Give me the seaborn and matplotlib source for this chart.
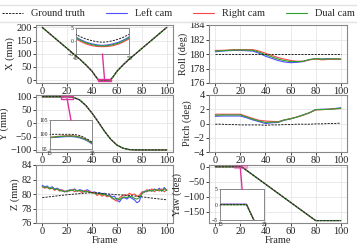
import matplotlib
matplotlib.use("Agg")
import matplotlib.pyplot as plt
import seaborn as sns
from matplotlib.patches import Rectangle, ConnectionPatch
from matplotlib.lines import Line2D

# ---- data ----
x_frames = [0, 5, 10, 15, 20, 25, 30, 35, 40, 43, 45, 46, 47, 48, 49, 50, 51, 52, 53, 54, 55,
            57, 60, 65, 70, 75, 80, 85, 90, 95, 100]
x_gt = [200, 180, 160, 140, 120, 100, 80, 58, 34, 14, 2.5, 1.5, 0.7, 0.1, -0.3, -0.5, -0.3, 0.1, 0.7, 1.5, 2.5,
        14, 34, 58, 80, 100, 120, 140, 160, 180, 200]
x_left = [200, 180, 160, 140, 120, 100, 80, 58, 33.5, 13, 1.5, 0.4, -0.5, -1.1, -1.5, -1.7, -1.5, -1.1, -0.5, 0.4, 1.5,
          13, 33.5, 58, 80, 100, 120, 140, 160, 180, 200]
x_right = [200, 180, 160, 140, 120, 100, 80, 58, 33, 12.5, 0.8, -0.3, -1.2, -1.8, -2.1, -2.2, -2.1, -1.8, -1.2, -0.3, 0.8,
           12.5, 33, 58, 80, 100, 120, 140, 160, 180, 200]
x_dual = [200, 180, 160, 140, 120, 100, 80, 58, 33.3, 12.8, 1.2, 0.1, -0.8, -1.4, -1.8, -1.9, -1.8, -1.4, -0.8, 0.1, 1.2,
          12.8, 33.3, 58, 80, 100, 120, 140, 160, 180, 200]

y_frames = [0, 5, 10, 15, 16, 17, 18, 19, 20, 21, 22, 23, 24, 25, 30, 35, 40, 45, 50, 55, 60, 65,
            70, 75, 80, 85, 90, 95, 100]
y_gt = [100, 100, 100, 100, 100, 100, 100, 100, 100, 99.9, 99.6, 99.0, 98.2, 97.2, 88, 67, 38, 5, -30, -60, -82, -94,
        -99, -100, -100, -100, -100, -100, -100]
y_left = [99, 99, 98.9, 98.8, 98.9, 99.0, 99.1, 99.2, 99.2, 99.1, 98.8, 98.3, 97.6, 96.6, 87.5, 66.5, 37.5, 4.5, -30.5,
          -60.5, -82, -94, -99, -100, -100.5, -100.5, -100.5, -100.5, -100.5]
y_right = [99.2, 99.2, 99.1, 99.0, 99.1, 99.3, 99.4, 99.5, 99.5, 99.4, 99.1, 98.6, 97.9, 96.9, 87.8, 66.8, 37.8, 4.8,
           -30.2, -60.2, -82, -94, -99, -100, -100.3, -100.3, -100.3, -100.3, -100.3]
y_dual = [99.1, 99.1, 99.0, 98.9, 99.0, 99.2, 99.3, 99.4, 99.4, 99.3, 99.0, 98.5, 97.8, 96.8, 87.7, 66.7, 37.7, 4.7,
          -30.3, -60.3, -82, -94, -99, -100, -100.4, -100.4, -100.4, -100.4, -100.4]

z_gt_frames = [0, 10, 20, 30, 40, 50, 60, 70, 80, 90, 100]
z_gt = [79.5, 79.7, 79.9, 80.05, 80.2, 80.05, 79.9, 79.8, 79.6, 79.4, 79.2]
z_frames = list(range(0, 101, 2))
z_left = [81.2, 81.0, 81.1, 80.8, 81.0, 80.7, 80.8, 80.6, 80.5, 80.4,
          80.3, 80.6, 80.5, 80.7, 80.4, 80.6, 80.5, 80.3, 80.6, 80.4,
          80.2, 80.3, 80.1, 80.2, 80.0, 80.1, 79.8, 79.9, 79.6, 79.7,
          79.2, 78.9, 79.4, 79.5, 79.3, 79.6, 79.4, 79.2, 78.8, 79.0,
          80.1, 80.4, 80.3, 80.6, 80.4, 80.7, 80.5, 80.8, 80.4, 80.9,
          80.5]
z_right = [81.0, 80.8, 80.9, 80.7, 80.8, 80.5, 80.7, 80.4, 80.6, 80.3,
           80.5, 80.4, 80.6, 80.3, 80.5, 80.4, 80.2, 80.5, 80.3, 80.4,
           80.1, 80.2, 79.8, 80.0, 79.7, 79.9, 79.6, 79.8, 79.4, 79.2,
           79.0, 79.5, 79.7, 79.9, 79.8, 80.1, 79.9, 80.0, 79.7, 79.8,
           80.3, 80.2, 80.6, 80.4, 80.7, 80.3, 80.6, 80.4, 80.7, 80.3,
           80.6]
z_dual = [81.0, 80.9, 81.0, 80.7, 80.9, 80.6, 80.7, 80.5, 80.4, 80.3,
          80.4, 80.5, 80.5, 80.6, 80.4, 80.5, 80.4, 80.3, 80.4, 80.2,
          80.2, 80.1, 80.0, 80.1, 79.9, 80.0, 79.8, 79.7, 79.5, 79.3,
          79.4, 79.2, 79.5, 79.6, 79.5, 79.7, 79.6, 79.4, 79.3, 79.5,
          80.0, 80.3, 80.4, 80.5, 80.4, 80.6, 80.5, 80.6, 80.4, 80.7,
          80.5]

rp_frames = list(range(0, 101, 5))
roll_gt = [180] * 21
roll_left = [180.3, 180.4, 180.45, 180.5, 180.5, 180.45, 180.4, 180.1, 179.7, 179.4, 179.1,
             178.9, 178.8, 178.85, 178.95, 179.2, 179.35, 179.3, 179.35, 179.3, 179.3]
roll_right = [180.5, 180.5, 180.55, 180.6, 180.6, 180.6, 180.6, 180.4, 180.1, 179.8, 179.5,
              179.3, 179.1, 179.0, 179.0, 179.2, 179.3, 179.2, 179.25, 179.3, 179.25]
roll_dual = [180.4, 180.45, 180.5, 180.55, 180.55, 180.55, 180.5, 180.25, 179.9, 179.6, 179.3,
             179.1, 178.95, 178.95, 179.0, 179.25, 179.35, 179.3, 179.3, 179.35, 179.3]

pitch_gt = [-0.1, -0.1, -0.15, -0.15, -0.2, -0.2, -0.2, -0.2, -0.25, -0.2, -0.2,
            -0.15, -0.15, -0.1, -0.1, -0.1, -0.05, -0.05, 0, 0, 0.05]
pitch_left = [1.0, 1.05, 1.05, 1.05, 1.05, 0.8, 0.5, 0.25, 0.0, 0.1, 0.15,
              0.45, 0.65, 0.9, 1.2, 1.5, 1.95, 2.0, 2.0, 2.1, 2.2]
pitch_right = [1.3, 1.3, 1.3, 1.3, 1.3, 1.0, 0.7, 0.45, 0.35, 0.3, 0.25,
               0.5, 0.7, 0.9, 1.15, 1.5, 1.9, 1.95, 2.0, 2.05, 2.1]
pitch_dual = [1.15, 1.2, 1.2, 1.2, 1.2, 0.9, 0.6, 0.35, 0.15, 0.2, 0.2,
              0.5, 0.65, 0.9, 1.2, 1.5, 1.95, 1.95, 2.0, 2.05, 2.15]

yaw_frames = [0, 10, 15, 20, 21, 25, 30, 40, 50, 60, 70, 80, 90, 100]
yaw_gt = [0, 0, 0, 0, 0, -12.2, -27.5, -58, -88.5, -119, -149.5, -180, -180, -180]
yaw_left = [0.2, 0.2, 0.2, 0.2, 0.2, -12, -27.3, -57.8, -88.3, -118.8, -149.3, -179.8, -179.8, -179.8]
yaw_right = [0.1, 0.1, 0.1, 0.1, 0.1, -12.1, -27.4, -57.9, -88.4, -118.9, -149.4, -179.9, -179.9, -179.9]
yaw_dual = [0, 0, 0, 0, 0, -12.2, -27.5, -58, -88.5, -119, -149.5, -180, -180, -180]

BLUE = "#4f4fff"
RED = "#ff4545"
GREEN = "#2e9e2e"
PINK = "#e0329a"

sns.set_theme(style="whitegrid")
plt.rcParams["font.family"] = ["Liberation Serif", "DejaVu Serif"]
plt.rcParams["axes.edgecolor"] = "#888888"
plt.rcParams["axes.linewidth"] = 0.8
plt.rcParams["grid.color"] = "#e6e6e6"
plt.rcParams["grid.linewidth"] = 0.6

fig = plt.figure(figsize=(3.57, 2.46), dpi=100)
L, W_L = 36 / 357, 137 / 357
R, W_R = 209 / 357, 138 / 357
rows = [(1 - 83 / 246, 58 / 246), (1 - 152 / 246, 57 / 246), (1 - 223 / 246, 58 / 246)]


def draw(ax, frames, gt, left, right, dual, gt_frames=None, lw=0.8):
    gf = frames if gt_frames is None else gt_frames
    sns.lineplot(x=gf, y=gt, ax=ax, color="#222222", linestyle=(0, (2.2, 1.2)), lw=0.7, estimator=None, zorder=3)
    sns.lineplot(x=frames, y=left, ax=ax, color=BLUE, lw=lw, estimator=None, zorder=2)
    sns.lineplot(x=frames, y=right, ax=ax, color=RED, lw=lw, estimator=None, zorder=2)
    sns.lineplot(x=frames, y=dual, ax=ax, color=GREEN, lw=lw, estimator=None, zorder=2)


def style(ax, ylabel, ylim, yticks, xlabel=False):
    ax.set_xlim(-5, 105)
    ax.set_ylim(*ylim)
    ax.set_xticks([0, 20, 40, 60, 80, 100])
    ax.set_yticks(yticks)
    ax.tick_params(labelsize=7.5, length=2, width=0.6, pad=1, colors="#222222", left=True, bottom=True)
    ax.set_ylabel(ylabel, fontsize=7.5, labelpad=1)
    ax.set_xlabel("Frame" if xlabel else "", fontsize=7.5, labelpad=0)


def inset(ax, bounds, xlim, ylim, yticks, frames, gt, left, right, dual):
    ia = ax.inset_axes(bounds)
    ia.set_facecolor("white")
    draw(ia, frames, gt, left, right, dual, lw=0.8)
    ia.set_xlim(*xlim)
    ia.set_ylim(*ylim)
    ia.set_xticks(list(xlim))
    ia.set_yticks(yticks)
    ia.grid(False)
    ia.tick_params(labelsize=4, length=1, width=0.4, pad=0.5, colors="#222222", left=True, bottom=True)
    ia.set_xlabel("")
    ia.set_ylabel("")
    for s in ia.spines.values():
        s.set_color("#888888")
        s.set_linewidth(0.7)
    return ia


# X
ax = fig.add_axes([L, rows[0][0], W_L, rows[0][1]])
draw(ax, x_frames, x_gt, x_left, x_right, x_dual)
style(ax, "X (mm)", (-11, 209), [0, 50, 100, 150, 200])
ia = inset(ax, [0.29, 0.5, 0.39, 0.45], (45, 55), (-5, 5), [-5, 0, 5],
           x_frames, x_gt, x_left, x_right, x_dual)
ax.add_patch(Rectangle((45, -5), 10, 10, fill=False, ec=PINK, lw=1, zorder=5))
fig.add_artist(ConnectionPatch((50, -5), (50, 5), coordsA=ia.transData, coordsB=ax.transData, color=PINK, lw=1))

# Y
ax = fig.add_axes([L, rows[1][0], W_L, rows[1][1]])
draw(ax, y_frames, y_gt, y_left, y_right, y_dual)
style(ax, "Y (mm)", (-108, 106), [-100, -50, 0, 50, 100])
ia = inset(ax, [0.1, 0.06, 0.31, 0.5], (15, 25), (95, 105), [95, 100, 105],
           y_frames, y_gt, y_left, y_right, y_dual)
ax.add_patch(Rectangle((15, 92), 10, 11, fill=False, ec=PINK, lw=1, zorder=5))
fig.add_artist(ConnectionPatch((20, 105), (20, 92), coordsA=ia.transData, coordsB=ax.transData, color=PINK, lw=1))

# Z
ax = fig.add_axes([L, rows[2][0], W_L, rows[2][1]])
draw(ax, z_frames, z_gt, z_left, z_right, z_dual, gt_frames=z_gt_frames)
style(ax, "Z (mm)", (76, 84), [76, 78, 80, 82, 84], xlabel=True)

# Roll
ax = fig.add_axes([R, rows[0][0], W_R, rows[0][1]])
draw(ax, rp_frames, roll_gt, roll_left, roll_right, roll_dual)
style(ax, "Roll (deg)", (176, 184), [176, 178, 180, 182, 184])

# Pitch
ax = fig.add_axes([R, rows[1][0], W_R, rows[1][1]])
draw(ax, rp_frames, pitch_gt, pitch_left, pitch_right, pitch_dual)
style(ax, "Pitch (deg)", (-4, 4), [-4, -2, 0, 2, 4])

# Yaw
ax = fig.add_axes([R, rows[2][0], W_R, rows[2][1]])
draw(ax, yaw_frames, yaw_gt, yaw_left, yaw_right, yaw_dual)
style(ax, "Yaw (deg)", (-188, 6), [-150, -100, -50, 0], xlabel=True)
ia = inset(ax, [0.08, 0.05, 0.32, 0.53], (15, 25), (-5, 5), [-5, 0, 5],
           yaw_frames, yaw_gt, yaw_left, yaw_right, yaw_dual)
ax.add_patch(Rectangle((15, -5), 10, 10, fc=PINK, alpha=0.35, ec=PINK, lw=1, zorder=5))
fig.add_artist(ConnectionPatch((20, 5), (20, -5), coordsA=ia.transData, coordsB=ax.transData, color=PINK, lw=1))

handles = [
    Line2D([], [], color="#222222", linestyle=(0, (2.2, 1.2)), lw=0.7),
    Line2D([], [], color=BLUE, lw=0.8),
    Line2D([], [], color=RED, lw=0.8),
    Line2D([], [], color=GREEN, lw=0.8),
]
fig.legend(handles, ["Ground truth", "Left cam", "Right cam", "Dual cam"], loc="upper center",
           bbox_to_anchor=(0.5, 1.0), ncol=4, fontsize=7.5, frameon=True, handlelength=2.0,
           columnspacing=2.0, handletextpad=0.8, borderpad=0.35, edgecolor="#dddddd", fancybox=False)

fig.savefig("out.png", dpi=100)
